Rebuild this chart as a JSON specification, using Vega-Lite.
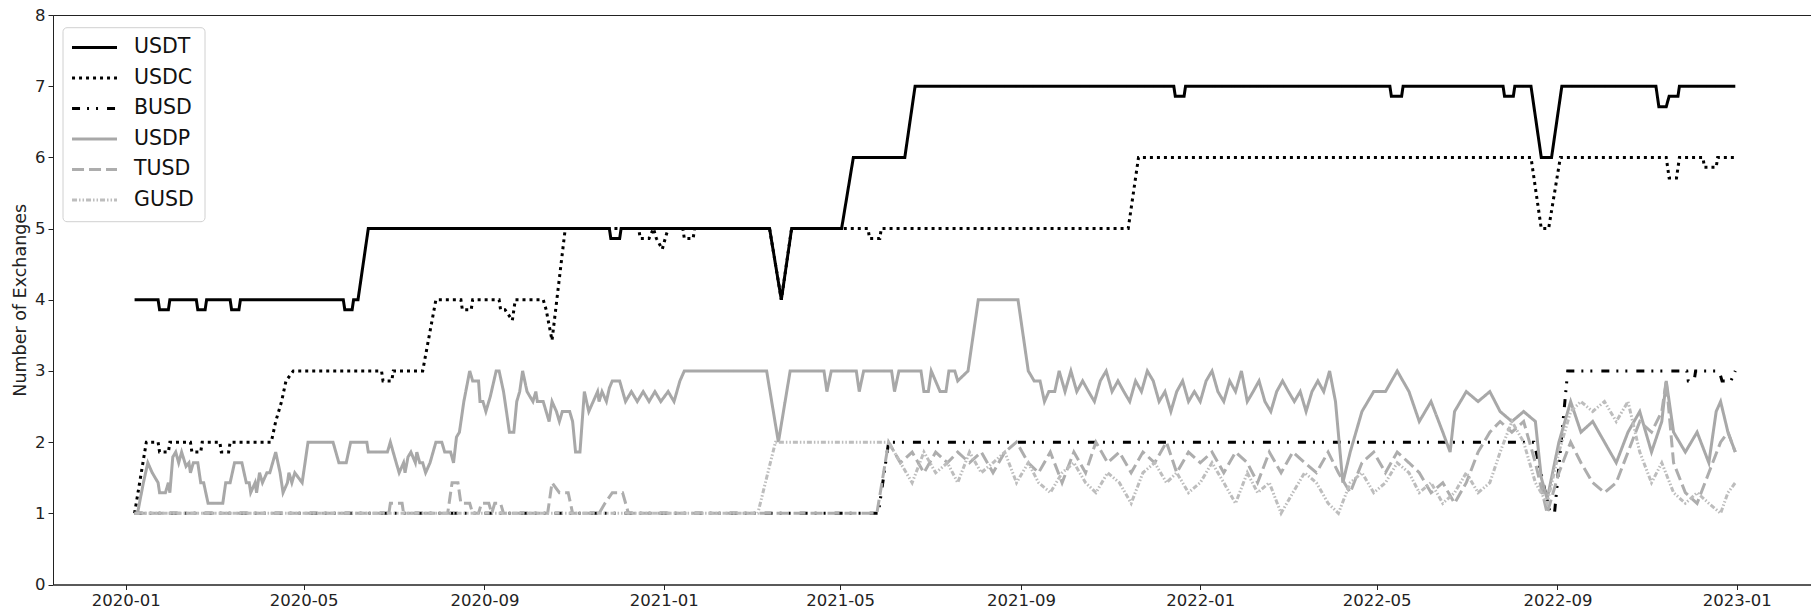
{
  "$schema": "https://vega.github.io/schema/vega-lite/v6.json",
  "width": 1758,
  "height": 569.5,
  "autosize": "none",
  "padding": {"left": 53, "top": 15, "right": 0, "bottom": 29},
  "background": "white",
  "config": {
    "font": "DejaVu Sans",
    "view": {"stroke": "#222", "strokeWidth": 1}
  },
  "data": {
    "values": [
      {"s": "USDT", "d": "2020-01-07", "v": 4},
      {"s": "USDT", "d": "2020-01-23", "v": 4},
      {"s": "USDT", "d": "2020-01-24", "v": 3.86},
      {"s": "USDT", "d": "2020-01-30", "v": 3.86},
      {"s": "USDT", "d": "2020-01-31", "v": 4},
      {"s": "USDT", "d": "2020-02-18", "v": 4},
      {"s": "USDT", "d": "2020-02-19", "v": 3.86},
      {"s": "USDT", "d": "2020-02-24", "v": 3.86},
      {"s": "USDT", "d": "2020-02-25", "v": 4},
      {"s": "USDT", "d": "2020-03-12", "v": 4},
      {"s": "USDT", "d": "2020-03-13", "v": 3.86},
      {"s": "USDT", "d": "2020-03-18", "v": 3.86},
      {"s": "USDT", "d": "2020-03-19", "v": 4},
      {"s": "USDT", "d": "2020-05-28", "v": 4},
      {"s": "USDT", "d": "2020-05-29", "v": 3.86},
      {"s": "USDT", "d": "2020-06-03", "v": 3.86},
      {"s": "USDT", "d": "2020-06-04", "v": 4},
      {"s": "USDT", "d": "2020-06-07", "v": 4},
      {"s": "USDT", "d": "2020-06-14", "v": 5},
      {"s": "USDT", "d": "2020-11-25", "v": 5},
      {"s": "USDT", "d": "2020-11-26", "v": 4.86},
      {"s": "USDT", "d": "2020-12-02", "v": 4.86},
      {"s": "USDT", "d": "2020-12-03", "v": 5},
      {"s": "USDT", "d": "2021-03-14", "v": 5},
      {"s": "USDT", "d": "2021-03-22", "v": 4},
      {"s": "USDT", "d": "2021-03-29", "v": 5},
      {"s": "USDT", "d": "2021-05-02", "v": 5},
      {"s": "USDT", "d": "2021-05-10", "v": 6},
      {"s": "USDT", "d": "2021-06-14", "v": 6},
      {"s": "USDT", "d": "2021-06-21", "v": 7},
      {"s": "USDT", "d": "2021-12-14", "v": 7},
      {"s": "USDT", "d": "2021-12-15", "v": 6.86},
      {"s": "USDT", "d": "2021-12-21", "v": 6.86},
      {"s": "USDT", "d": "2021-12-22", "v": 7},
      {"s": "USDT", "d": "2022-05-10", "v": 7},
      {"s": "USDT", "d": "2022-05-11", "v": 6.86},
      {"s": "USDT", "d": "2022-05-18", "v": 6.86},
      {"s": "USDT", "d": "2022-05-19", "v": 7},
      {"s": "USDT", "d": "2022-07-26", "v": 7},
      {"s": "USDT", "d": "2022-07-27", "v": 6.86},
      {"s": "USDT", "d": "2022-08-02", "v": 6.86},
      {"s": "USDT", "d": "2022-08-03", "v": 7},
      {"s": "USDT", "d": "2022-08-14", "v": 7},
      {"s": "USDT", "d": "2022-08-21", "v": 6},
      {"s": "USDT", "d": "2022-08-28", "v": 6},
      {"s": "USDT", "d": "2022-09-04", "v": 7},
      {"s": "USDT", "d": "2022-11-07", "v": 7},
      {"s": "USDT", "d": "2022-11-09", "v": 6.71},
      {"s": "USDT", "d": "2022-11-14", "v": 6.71},
      {"s": "USDT", "d": "2022-11-16", "v": 6.86},
      {"s": "USDT", "d": "2022-11-22", "v": 6.86},
      {"s": "USDT", "d": "2022-11-23", "v": 7},
      {"s": "USDT", "d": "2022-12-31", "v": 7},

      {"s": "USDC", "d": "2020-01-07", "v": 1},
      {"s": "USDC", "d": "2020-01-15", "v": 2},
      {"s": "USDC", "d": "2020-01-23", "v": 2},
      {"s": "USDC", "d": "2020-01-24", "v": 1.86},
      {"s": "USDC", "d": "2020-01-30", "v": 1.86},
      {"s": "USDC", "d": "2020-01-31", "v": 2},
      {"s": "USDC", "d": "2020-02-14", "v": 2},
      {"s": "USDC", "d": "2020-02-15", "v": 1.86},
      {"s": "USDC", "d": "2020-02-21", "v": 1.86},
      {"s": "USDC", "d": "2020-02-22", "v": 2},
      {"s": "USDC", "d": "2020-03-05", "v": 2},
      {"s": "USDC", "d": "2020-03-06", "v": 1.86},
      {"s": "USDC", "d": "2020-03-11", "v": 1.86},
      {"s": "USDC", "d": "2020-03-12", "v": 2},
      {"s": "USDC", "d": "2020-04-09", "v": 2},
      {"s": "USDC", "d": "2020-04-12", "v": 2.29},
      {"s": "USDC", "d": "2020-04-16", "v": 2.57},
      {"s": "USDC", "d": "2020-04-19", "v": 2.86},
      {"s": "USDC", "d": "2020-04-24", "v": 3},
      {"s": "USDC", "d": "2020-06-23", "v": 3},
      {"s": "USDC", "d": "2020-06-24", "v": 2.86},
      {"s": "USDC", "d": "2020-06-30", "v": 2.86},
      {"s": "USDC", "d": "2020-07-01", "v": 3},
      {"s": "USDC", "d": "2020-07-21", "v": 3},
      {"s": "USDC", "d": "2020-07-30", "v": 4},
      {"s": "USDC", "d": "2020-08-16", "v": 4},
      {"s": "USDC", "d": "2020-08-17", "v": 3.86},
      {"s": "USDC", "d": "2020-08-23", "v": 3.86},
      {"s": "USDC", "d": "2020-08-24", "v": 4},
      {"s": "USDC", "d": "2020-09-11", "v": 4},
      {"s": "USDC", "d": "2020-09-12", "v": 3.86},
      {"s": "USDC", "d": "2020-09-15", "v": 3.86},
      {"s": "USDC", "d": "2020-09-20", "v": 3.71},
      {"s": "USDC", "d": "2020-09-22", "v": 4},
      {"s": "USDC", "d": "2020-10-11", "v": 4},
      {"s": "USDC", "d": "2020-10-13", "v": 3.86},
      {"s": "USDC", "d": "2020-10-17", "v": 3.43},
      {"s": "USDC", "d": "2020-10-26", "v": 5},
      {"s": "USDC", "d": "2020-12-15", "v": 5},
      {"s": "USDC", "d": "2020-12-16", "v": 4.86},
      {"s": "USDC", "d": "2020-12-22", "v": 4.86},
      {"s": "USDC", "d": "2020-12-25", "v": 5},
      {"s": "USDC", "d": "2020-12-27", "v": 4.86},
      {"s": "USDC", "d": "2020-12-31", "v": 4.71},
      {"s": "USDC", "d": "2021-01-02", "v": 4.86},
      {"s": "USDC", "d": "2021-01-04", "v": 5},
      {"s": "USDC", "d": "2021-01-14", "v": 5},
      {"s": "USDC", "d": "2021-01-15", "v": 4.86},
      {"s": "USDC", "d": "2021-01-21", "v": 4.86},
      {"s": "USDC", "d": "2021-01-22", "v": 5},
      {"s": "USDC", "d": "2021-03-14", "v": 5},
      {"s": "USDC", "d": "2021-03-22", "v": 4},
      {"s": "USDC", "d": "2021-03-29", "v": 5},
      {"s": "USDC", "d": "2021-05-20", "v": 5},
      {"s": "USDC", "d": "2021-05-21", "v": 4.86},
      {"s": "USDC", "d": "2021-05-28", "v": 4.86},
      {"s": "USDC", "d": "2021-05-29", "v": 5},
      {"s": "USDC", "d": "2021-11-13", "v": 5},
      {"s": "USDC", "d": "2021-11-20", "v": 6},
      {"s": "USDC", "d": "2022-08-14", "v": 6},
      {"s": "USDC", "d": "2022-08-21", "v": 5},
      {"s": "USDC", "d": "2022-08-26", "v": 5},
      {"s": "USDC", "d": "2022-09-03", "v": 6},
      {"s": "USDC", "d": "2022-11-14", "v": 6},
      {"s": "USDC", "d": "2022-11-16", "v": 5.71},
      {"s": "USDC", "d": "2022-11-21", "v": 5.71},
      {"s": "USDC", "d": "2022-11-23", "v": 6},
      {"s": "USDC", "d": "2022-12-09", "v": 6},
      {"s": "USDC", "d": "2022-12-10", "v": 5.86},
      {"s": "USDC", "d": "2022-12-18", "v": 5.86},
      {"s": "USDC", "d": "2022-12-19", "v": 6},
      {"s": "USDC", "d": "2022-12-31", "v": 6},

      {"s": "BUSD", "d": "2020-01-07", "v": 1},
      {"s": "BUSD", "d": "2021-05-27", "v": 1},
      {"s": "BUSD", "d": "2021-06-03", "v": 2},
      {"s": "BUSD", "d": "2022-08-16", "v": 2},
      {"s": "BUSD", "d": "2022-08-27", "v": 1},
      {"s": "BUSD", "d": "2022-08-30", "v": 1},
      {"s": "BUSD", "d": "2022-09-08", "v": 3},
      {"s": "BUSD", "d": "2022-11-28", "v": 3},
      {"s": "BUSD", "d": "2022-11-29", "v": 2.86},
      {"s": "BUSD", "d": "2022-12-03", "v": 2.86},
      {"s": "BUSD", "d": "2022-12-04", "v": 3},
      {"s": "BUSD", "d": "2022-12-20", "v": 3},
      {"s": "BUSD", "d": "2022-12-22", "v": 2.86},
      {"s": "BUSD", "d": "2022-12-28", "v": 2.86},
      {"s": "BUSD", "d": "2022-12-31", "v": 3},

      {"s": "USDP", "d": "2020-01-07", "v": 1},
      {"s": "USDP", "d": "2020-01-09", "v": 1},
      {"s": "USDP", "d": "2020-01-13", "v": 1.43},
      {"s": "USDP", "d": "2020-01-16", "v": 1.71},
      {"s": "USDP", "d": "2020-01-19", "v": 1.57},
      {"s": "USDP", "d": "2020-01-23", "v": 1.43},
      {"s": "USDP", "d": "2020-01-24", "v": 1.29},
      {"s": "USDP", "d": "2020-01-28", "v": 1.29},
      {"s": "USDP", "d": "2020-01-30", "v": 1.43},
      {"s": "USDP", "d": "2020-01-31", "v": 1.29},
      {"s": "USDP", "d": "2020-02-02", "v": 1.79},
      {"s": "USDP", "d": "2020-02-04", "v": 1.86},
      {"s": "USDP", "d": "2020-02-06", "v": 1.71},
      {"s": "USDP", "d": "2020-02-08", "v": 1.86},
      {"s": "USDP", "d": "2020-02-11", "v": 1.66},
      {"s": "USDP", "d": "2020-02-13", "v": 1.71},
      {"s": "USDP", "d": "2020-02-14", "v": 1.57},
      {"s": "USDP", "d": "2020-02-16", "v": 1.71},
      {"s": "USDP", "d": "2020-02-19", "v": 1.71},
      {"s": "USDP", "d": "2020-02-21", "v": 1.43},
      {"s": "USDP", "d": "2020-02-23", "v": 1.43},
      {"s": "USDP", "d": "2020-02-26", "v": 1.14},
      {"s": "USDP", "d": "2020-03-07", "v": 1.14},
      {"s": "USDP", "d": "2020-03-09", "v": 1.43},
      {"s": "USDP", "d": "2020-03-12", "v": 1.43},
      {"s": "USDP", "d": "2020-03-15", "v": 1.71},
      {"s": "USDP", "d": "2020-03-20", "v": 1.71},
      {"s": "USDP", "d": "2020-03-23", "v": 1.43},
      {"s": "USDP", "d": "2020-03-25", "v": 1.43},
      {"s": "USDP", "d": "2020-03-26", "v": 1.29},
      {"s": "USDP", "d": "2020-03-29", "v": 1.43},
      {"s": "USDP", "d": "2020-03-30", "v": 1.29},
      {"s": "USDP", "d": "2020-04-01", "v": 1.57},
      {"s": "USDP", "d": "2020-04-03", "v": 1.43},
      {"s": "USDP", "d": "2020-04-06", "v": 1.57},
      {"s": "USDP", "d": "2020-04-08", "v": 1.57},
      {"s": "USDP", "d": "2020-04-12", "v": 1.86},
      {"s": "USDP", "d": "2020-04-15", "v": 1.57},
      {"s": "USDP", "d": "2020-04-17", "v": 1.29},
      {"s": "USDP", "d": "2020-04-20", "v": 1.43},
      {"s": "USDP", "d": "2020-04-21", "v": 1.57},
      {"s": "USDP", "d": "2020-04-23", "v": 1.43},
      {"s": "USDP", "d": "2020-04-25", "v": 1.57},
      {"s": "USDP", "d": "2020-04-30", "v": 1.43},
      {"s": "USDP", "d": "2020-05-04", "v": 2},
      {"s": "USDP", "d": "2020-05-21", "v": 2},
      {"s": "USDP", "d": "2020-05-25", "v": 1.71},
      {"s": "USDP", "d": "2020-05-30", "v": 1.71},
      {"s": "USDP", "d": "2020-06-02", "v": 2},
      {"s": "USDP", "d": "2020-06-13", "v": 2},
      {"s": "USDP", "d": "2020-06-14", "v": 1.86},
      {"s": "USDP", "d": "2020-06-27", "v": 1.86},
      {"s": "USDP", "d": "2020-06-29", "v": 2},
      {"s": "USDP", "d": "2020-07-03", "v": 1.71},
      {"s": "USDP", "d": "2020-07-05", "v": 1.57},
      {"s": "USDP", "d": "2020-07-08", "v": 1.71},
      {"s": "USDP", "d": "2020-07-09", "v": 1.57},
      {"s": "USDP", "d": "2020-07-11", "v": 1.79},
      {"s": "USDP", "d": "2020-07-13", "v": 1.86},
      {"s": "USDP", "d": "2020-07-16", "v": 1.71},
      {"s": "USDP", "d": "2020-07-17", "v": 1.86},
      {"s": "USDP", "d": "2020-07-19", "v": 1.71},
      {"s": "USDP", "d": "2020-07-21", "v": 1.71},
      {"s": "USDP", "d": "2020-07-23", "v": 1.57},
      {"s": "USDP", "d": "2020-07-26", "v": 1.71},
      {"s": "USDP", "d": "2020-07-30", "v": 2},
      {"s": "USDP", "d": "2020-08-03", "v": 2},
      {"s": "USDP", "d": "2020-08-05", "v": 1.86},
      {"s": "USDP", "d": "2020-08-09", "v": 1.86},
      {"s": "USDP", "d": "2020-08-11", "v": 1.71},
      {"s": "USDP", "d": "2020-08-13", "v": 2.07},
      {"s": "USDP", "d": "2020-08-15", "v": 2.14},
      {"s": "USDP", "d": "2020-08-18", "v": 2.57},
      {"s": "USDP", "d": "2020-08-22", "v": 3},
      {"s": "USDP", "d": "2020-08-24", "v": 2.86},
      {"s": "USDP", "d": "2020-08-28", "v": 2.86},
      {"s": "USDP", "d": "2020-08-29", "v": 2.57},
      {"s": "USDP", "d": "2020-08-31", "v": 2.57},
      {"s": "USDP", "d": "2020-09-02", "v": 2.43},
      {"s": "USDP", "d": "2020-09-05", "v": 2.64},
      {"s": "USDP", "d": "2020-09-09", "v": 3},
      {"s": "USDP", "d": "2020-09-11", "v": 3},
      {"s": "USDP", "d": "2020-09-14", "v": 2.71},
      {"s": "USDP", "d": "2020-09-16", "v": 2.43},
      {"s": "USDP", "d": "2020-09-18", "v": 2.14},
      {"s": "USDP", "d": "2020-09-21", "v": 2.14},
      {"s": "USDP", "d": "2020-09-23", "v": 2.57},
      {"s": "USDP", "d": "2020-09-25", "v": 2.71},
      {"s": "USDP", "d": "2020-09-27", "v": 3},
      {"s": "USDP", "d": "2020-09-30", "v": 2.71},
      {"s": "USDP", "d": "2020-10-04", "v": 2.57},
      {"s": "USDP", "d": "2020-10-06", "v": 2.71},
      {"s": "USDP", "d": "2020-10-07", "v": 2.57},
      {"s": "USDP", "d": "2020-10-11", "v": 2.57},
      {"s": "USDP", "d": "2020-10-13", "v": 2.43},
      {"s": "USDP", "d": "2020-10-15", "v": 2.29},
      {"s": "USDP", "d": "2020-10-17", "v": 2.57},
      {"s": "USDP", "d": "2020-10-20", "v": 2.43},
      {"s": "USDP", "d": "2020-10-22", "v": 2.29},
      {"s": "USDP", "d": "2020-10-24", "v": 2.43},
      {"s": "USDP", "d": "2020-10-29", "v": 2.43},
      {"s": "USDP", "d": "2020-10-31", "v": 2.29},
      {"s": "USDP", "d": "2020-11-02", "v": 1.86},
      {"s": "USDP", "d": "2020-11-05", "v": 1.86},
      {"s": "USDP", "d": "2020-11-08", "v": 2.71},
      {"s": "USDP", "d": "2020-11-11", "v": 2.43},
      {"s": "USDP", "d": "2020-11-14", "v": 2.57},
      {"s": "USDP", "d": "2020-11-17", "v": 2.71},
      {"s": "USDP", "d": "2020-11-18", "v": 2.57},
      {"s": "USDP", "d": "2020-11-20", "v": 2.71},
      {"s": "USDP", "d": "2020-11-23", "v": 2.57},
      {"s": "USDP", "d": "2020-11-25", "v": 2.76},
      {"s": "USDP", "d": "2020-11-27", "v": 2.86},
      {"s": "USDP", "d": "2020-12-02", "v": 2.86},
      {"s": "USDP", "d": "2020-12-06", "v": 2.57},
      {"s": "USDP", "d": "2020-12-10", "v": 2.71},
      {"s": "USDP", "d": "2020-12-14", "v": 2.57},
      {"s": "USDP", "d": "2020-12-18", "v": 2.71},
      {"s": "USDP", "d": "2020-12-22", "v": 2.57},
      {"s": "USDP", "d": "2020-12-26", "v": 2.71},
      {"s": "USDP", "d": "2020-12-30", "v": 2.57},
      {"s": "USDP", "d": "2021-01-04", "v": 2.71},
      {"s": "USDP", "d": "2021-01-08", "v": 2.57},
      {"s": "USDP", "d": "2021-01-12", "v": 2.86},
      {"s": "USDP", "d": "2021-01-15", "v": 3},
      {"s": "USDP", "d": "2021-03-12", "v": 3},
      {"s": "USDP", "d": "2021-03-20", "v": 2},
      {"s": "USDP", "d": "2021-03-28", "v": 3},
      {"s": "USDP", "d": "2021-04-20", "v": 3},
      {"s": "USDP", "d": "2021-04-22", "v": 2.71},
      {"s": "USDP", "d": "2021-04-25", "v": 3},
      {"s": "USDP", "d": "2021-05-12", "v": 3},
      {"s": "USDP", "d": "2021-05-14", "v": 2.71},
      {"s": "USDP", "d": "2021-05-17", "v": 3},
      {"s": "USDP", "d": "2021-06-05", "v": 3},
      {"s": "USDP", "d": "2021-06-07", "v": 2.71},
      {"s": "USDP", "d": "2021-06-10", "v": 3},
      {"s": "USDP", "d": "2021-06-25", "v": 3},
      {"s": "USDP", "d": "2021-06-27", "v": 2.71},
      {"s": "USDP", "d": "2021-06-30", "v": 2.71},
      {"s": "USDP", "d": "2021-07-02", "v": 3},
      {"s": "USDP", "d": "2021-07-08", "v": 2.71},
      {"s": "USDP", "d": "2021-07-12", "v": 2.71},
      {"s": "USDP", "d": "2021-07-14", "v": 3},
      {"s": "USDP", "d": "2021-07-18", "v": 3},
      {"s": "USDP", "d": "2021-07-20", "v": 2.86},
      {"s": "USDP", "d": "2021-07-27", "v": 3},
      {"s": "USDP", "d": "2021-08-03", "v": 4},
      {"s": "USDP", "d": "2021-08-30", "v": 4},
      {"s": "USDP", "d": "2021-09-06", "v": 3},
      {"s": "USDP", "d": "2021-09-10", "v": 2.86},
      {"s": "USDP", "d": "2021-09-14", "v": 2.86},
      {"s": "USDP", "d": "2021-09-17", "v": 2.57},
      {"s": "USDP", "d": "2021-09-20", "v": 2.71},
      {"s": "USDP", "d": "2021-09-24", "v": 2.71},
      {"s": "USDP", "d": "2021-09-27", "v": 3},
      {"s": "USDP", "d": "2021-10-01", "v": 2.71},
      {"s": "USDP", "d": "2021-10-05", "v": 3},
      {"s": "USDP", "d": "2021-10-09", "v": 2.71},
      {"s": "USDP", "d": "2021-10-13", "v": 2.86},
      {"s": "USDP", "d": "2021-10-17", "v": 2.71},
      {"s": "USDP", "d": "2021-10-21", "v": 2.57},
      {"s": "USDP", "d": "2021-10-25", "v": 2.86},
      {"s": "USDP", "d": "2021-10-29", "v": 3},
      {"s": "USDP", "d": "2021-11-02", "v": 2.71},
      {"s": "USDP", "d": "2021-11-06", "v": 2.86},
      {"s": "USDP", "d": "2021-11-10", "v": 2.71},
      {"s": "USDP", "d": "2021-11-14", "v": 2.57},
      {"s": "USDP", "d": "2021-11-18", "v": 2.86},
      {"s": "USDP", "d": "2021-11-22", "v": 2.71},
      {"s": "USDP", "d": "2021-11-26", "v": 3},
      {"s": "USDP", "d": "2021-11-30", "v": 2.86},
      {"s": "USDP", "d": "2021-12-04", "v": 2.57},
      {"s": "USDP", "d": "2021-12-08", "v": 2.71},
      {"s": "USDP", "d": "2021-12-12", "v": 2.43},
      {"s": "USDP", "d": "2021-12-16", "v": 2.71},
      {"s": "USDP", "d": "2021-12-20", "v": 2.86},
      {"s": "USDP", "d": "2021-12-24", "v": 2.57},
      {"s": "USDP", "d": "2021-12-28", "v": 2.71},
      {"s": "USDP", "d": "2022-01-01", "v": 2.57},
      {"s": "USDP", "d": "2022-01-05", "v": 2.86},
      {"s": "USDP", "d": "2022-01-09", "v": 3},
      {"s": "USDP", "d": "2022-01-13", "v": 2.71},
      {"s": "USDP", "d": "2022-01-17", "v": 2.57},
      {"s": "USDP", "d": "2022-01-21", "v": 2.86},
      {"s": "USDP", "d": "2022-01-25", "v": 2.71},
      {"s": "USDP", "d": "2022-01-29", "v": 3},
      {"s": "USDP", "d": "2022-02-02", "v": 2.57},
      {"s": "USDP", "d": "2022-02-06", "v": 2.71},
      {"s": "USDP", "d": "2022-02-10", "v": 2.86},
      {"s": "USDP", "d": "2022-02-14", "v": 2.57},
      {"s": "USDP", "d": "2022-02-18", "v": 2.43},
      {"s": "USDP", "d": "2022-02-22", "v": 2.71},
      {"s": "USDP", "d": "2022-02-26", "v": 2.86},
      {"s": "USDP", "d": "2022-03-02", "v": 2.71},
      {"s": "USDP", "d": "2022-03-06", "v": 2.57},
      {"s": "USDP", "d": "2022-03-10", "v": 2.71},
      {"s": "USDP", "d": "2022-03-14", "v": 2.43},
      {"s": "USDP", "d": "2022-03-18", "v": 2.71},
      {"s": "USDP", "d": "2022-03-22", "v": 2.86},
      {"s": "USDP", "d": "2022-03-26", "v": 2.71},
      {"s": "USDP", "d": "2022-03-30", "v": 3},
      {"s": "USDP", "d": "2022-04-03", "v": 2.57},
      {"s": "USDP", "d": "2022-04-08", "v": 1.43},
      {"s": "USDP", "d": "2022-04-13", "v": 1.86},
      {"s": "USDP", "d": "2022-04-21", "v": 2.43},
      {"s": "USDP", "d": "2022-04-29", "v": 2.71},
      {"s": "USDP", "d": "2022-05-07", "v": 2.71},
      {"s": "USDP", "d": "2022-05-15", "v": 3},
      {"s": "USDP", "d": "2022-05-23", "v": 2.71},
      {"s": "USDP", "d": "2022-05-30", "v": 2.29},
      {"s": "USDP", "d": "2022-06-07", "v": 2.57},
      {"s": "USDP", "d": "2022-06-15", "v": 2.14},
      {"s": "USDP", "d": "2022-06-20", "v": 1.86},
      {"s": "USDP", "d": "2022-06-23", "v": 2.43},
      {"s": "USDP", "d": "2022-07-01", "v": 2.71},
      {"s": "USDP", "d": "2022-07-09", "v": 2.57},
      {"s": "USDP", "d": "2022-07-17", "v": 2.71},
      {"s": "USDP", "d": "2022-07-24", "v": 2.43},
      {"s": "USDP", "d": "2022-08-01", "v": 2.29},
      {"s": "USDP", "d": "2022-08-09", "v": 2.43},
      {"s": "USDP", "d": "2022-08-17", "v": 2.29},
      {"s": "USDP", "d": "2022-08-21", "v": 1.5},
      {"s": "USDP", "d": "2022-08-25", "v": 1.2},
      {"s": "USDP", "d": "2022-08-29", "v": 1.6},
      {"s": "USDP", "d": "2022-09-02", "v": 2},
      {"s": "USDP", "d": "2022-09-10", "v": 2.57},
      {"s": "USDP", "d": "2022-09-17", "v": 2.14},
      {"s": "USDP", "d": "2022-09-25", "v": 2.29},
      {"s": "USDP", "d": "2022-10-03", "v": 2},
      {"s": "USDP", "d": "2022-10-11", "v": 1.71},
      {"s": "USDP", "d": "2022-10-19", "v": 2.14},
      {"s": "USDP", "d": "2022-10-27", "v": 2.43},
      {"s": "USDP", "d": "2022-11-04", "v": 1.86},
      {"s": "USDP", "d": "2022-11-11", "v": 2.29},
      {"s": "USDP", "d": "2022-11-14", "v": 2.86},
      {"s": "USDP", "d": "2022-11-19", "v": 2.14},
      {"s": "USDP", "d": "2022-11-27", "v": 1.86},
      {"s": "USDP", "d": "2022-12-05", "v": 2.14},
      {"s": "USDP", "d": "2022-12-13", "v": 1.71},
      {"s": "USDP", "d": "2022-12-18", "v": 2.43},
      {"s": "USDP", "d": "2022-12-21", "v": 2.57},
      {"s": "USDP", "d": "2022-12-26", "v": 2.14},
      {"s": "USDP", "d": "2022-12-31", "v": 1.86},

      {"s": "TUSD", "d": "2020-01-07", "v": 1},
      {"s": "TUSD", "d": "2020-06-28", "v": 1},
      {"s": "TUSD", "d": "2020-06-29", "v": 1.14},
      {"s": "TUSD", "d": "2020-07-07", "v": 1.14},
      {"s": "TUSD", "d": "2020-07-08", "v": 1},
      {"s": "TUSD", "d": "2020-08-07", "v": 1},
      {"s": "TUSD", "d": "2020-08-10", "v": 1.43},
      {"s": "TUSD", "d": "2020-08-14", "v": 1.43},
      {"s": "TUSD", "d": "2020-08-16", "v": 1.14},
      {"s": "TUSD", "d": "2020-08-22", "v": 1.14},
      {"s": "TUSD", "d": "2020-08-24", "v": 1},
      {"s": "TUSD", "d": "2020-08-28", "v": 1},
      {"s": "TUSD", "d": "2020-08-30", "v": 1.14},
      {"s": "TUSD", "d": "2020-09-04", "v": 1.14},
      {"s": "TUSD", "d": "2020-09-06", "v": 1},
      {"s": "TUSD", "d": "2020-09-08", "v": 1.14},
      {"s": "TUSD", "d": "2020-09-12", "v": 1.14},
      {"s": "TUSD", "d": "2020-09-14", "v": 1},
      {"s": "TUSD", "d": "2020-10-14", "v": 1},
      {"s": "TUSD", "d": "2020-10-17", "v": 1.43},
      {"s": "TUSD", "d": "2020-10-22", "v": 1.29},
      {"s": "TUSD", "d": "2020-10-28", "v": 1.29},
      {"s": "TUSD", "d": "2020-10-31", "v": 1},
      {"s": "TUSD", "d": "2020-11-18", "v": 1},
      {"s": "TUSD", "d": "2020-11-22", "v": 1.14},
      {"s": "TUSD", "d": "2020-11-27", "v": 1.29},
      {"s": "TUSD", "d": "2020-12-04", "v": 1.29},
      {"s": "TUSD", "d": "2020-12-08", "v": 1},
      {"s": "TUSD", "d": "2021-05-26", "v": 1},
      {"s": "TUSD", "d": "2021-06-03", "v": 2},
      {"s": "TUSD", "d": "2021-06-11", "v": 1.71},
      {"s": "TUSD", "d": "2021-06-19", "v": 1.86},
      {"s": "TUSD", "d": "2021-06-27", "v": 1.57},
      {"s": "TUSD", "d": "2021-07-05", "v": 1.86},
      {"s": "TUSD", "d": "2021-07-13", "v": 1.71},
      {"s": "TUSD", "d": "2021-07-20", "v": 1.86},
      {"s": "TUSD", "d": "2021-07-28", "v": 1.71},
      {"s": "TUSD", "d": "2021-08-05", "v": 1.86},
      {"s": "TUSD", "d": "2021-08-13", "v": 1.57},
      {"s": "TUSD", "d": "2021-08-21", "v": 1.86},
      {"s": "TUSD", "d": "2021-08-29", "v": 2},
      {"s": "TUSD", "d": "2021-09-06", "v": 1.71},
      {"s": "TUSD", "d": "2021-09-13", "v": 1.57},
      {"s": "TUSD", "d": "2021-09-21", "v": 1.86},
      {"s": "TUSD", "d": "2021-09-29", "v": 1.43},
      {"s": "TUSD", "d": "2021-10-07", "v": 1.86},
      {"s": "TUSD", "d": "2021-10-15", "v": 1.57},
      {"s": "TUSD", "d": "2021-10-22", "v": 2},
      {"s": "TUSD", "d": "2021-10-30", "v": 1.71},
      {"s": "TUSD", "d": "2021-11-07", "v": 1.86},
      {"s": "TUSD", "d": "2021-11-15", "v": 1.57},
      {"s": "TUSD", "d": "2021-11-23", "v": 1.86},
      {"s": "TUSD", "d": "2021-12-01", "v": 1.71},
      {"s": "TUSD", "d": "2021-12-09", "v": 2},
      {"s": "TUSD", "d": "2021-12-16", "v": 1.57},
      {"s": "TUSD", "d": "2021-12-24", "v": 1.86},
      {"s": "TUSD", "d": "2022-01-01", "v": 1.71},
      {"s": "TUSD", "d": "2022-01-09", "v": 1.86},
      {"s": "TUSD", "d": "2022-01-17", "v": 1.57},
      {"s": "TUSD", "d": "2022-01-25", "v": 1.86},
      {"s": "TUSD", "d": "2022-02-02", "v": 1.71},
      {"s": "TUSD", "d": "2022-02-09", "v": 1.43},
      {"s": "TUSD", "d": "2022-02-17", "v": 1.86},
      {"s": "TUSD", "d": "2022-02-25", "v": 1.57},
      {"s": "TUSD", "d": "2022-03-05", "v": 1.86},
      {"s": "TUSD", "d": "2022-03-13", "v": 1.71},
      {"s": "TUSD", "d": "2022-03-21", "v": 1.57},
      {"s": "TUSD", "d": "2022-03-29", "v": 1.86},
      {"s": "TUSD", "d": "2022-04-05", "v": 1.57},
      {"s": "TUSD", "d": "2022-04-13", "v": 1.29},
      {"s": "TUSD", "d": "2022-04-21", "v": 1.71},
      {"s": "TUSD", "d": "2022-04-29", "v": 1.86},
      {"s": "TUSD", "d": "2022-05-07", "v": 1.57},
      {"s": "TUSD", "d": "2022-05-15", "v": 1.86},
      {"s": "TUSD", "d": "2022-05-23", "v": 1.71},
      {"s": "TUSD", "d": "2022-05-30", "v": 1.57},
      {"s": "TUSD", "d": "2022-06-07", "v": 1.29},
      {"s": "TUSD", "d": "2022-06-15", "v": 1.43},
      {"s": "TUSD", "d": "2022-06-23", "v": 1.14},
      {"s": "TUSD", "d": "2022-07-01", "v": 1.43},
      {"s": "TUSD", "d": "2022-07-09", "v": 1.86},
      {"s": "TUSD", "d": "2022-07-17", "v": 2.14},
      {"s": "TUSD", "d": "2022-07-24", "v": 2.29},
      {"s": "TUSD", "d": "2022-08-01", "v": 2.14},
      {"s": "TUSD", "d": "2022-08-09", "v": 2.29},
      {"s": "TUSD", "d": "2022-08-17", "v": 1.71},
      {"s": "TUSD", "d": "2022-08-25", "v": 1},
      {"s": "TUSD", "d": "2022-09-02", "v": 1.57},
      {"s": "TUSD", "d": "2022-09-10", "v": 2},
      {"s": "TUSD", "d": "2022-09-17", "v": 1.71},
      {"s": "TUSD", "d": "2022-09-25", "v": 1.43},
      {"s": "TUSD", "d": "2022-10-03", "v": 1.29},
      {"s": "TUSD", "d": "2022-10-11", "v": 1.43},
      {"s": "TUSD", "d": "2022-10-19", "v": 1.86},
      {"s": "TUSD", "d": "2022-10-27", "v": 2.29},
      {"s": "TUSD", "d": "2022-11-04", "v": 2.14},
      {"s": "TUSD", "d": "2022-11-11", "v": 2.43},
      {"s": "TUSD", "d": "2022-11-14", "v": 2.86},
      {"s": "TUSD", "d": "2022-11-19", "v": 1.71},
      {"s": "TUSD", "d": "2022-11-27", "v": 1.29},
      {"s": "TUSD", "d": "2022-12-05", "v": 1.14},
      {"s": "TUSD", "d": "2022-12-13", "v": 1.57},
      {"s": "TUSD", "d": "2022-12-21", "v": 2},
      {"s": "TUSD", "d": "2022-12-26", "v": 2.14},
      {"s": "TUSD", "d": "2022-12-31", "v": 1.86},

      {"s": "GUSD", "d": "2020-01-07", "v": 1},
      {"s": "GUSD", "d": "2021-03-06", "v": 1},
      {"s": "GUSD", "d": "2021-03-18", "v": 2},
      {"s": "GUSD", "d": "2021-06-03", "v": 2},
      {"s": "GUSD", "d": "2021-06-11", "v": 1.71},
      {"s": "GUSD", "d": "2021-06-19", "v": 1.43},
      {"s": "GUSD", "d": "2021-06-27", "v": 1.86},
      {"s": "GUSD", "d": "2021-07-05", "v": 1.57},
      {"s": "GUSD", "d": "2021-07-13", "v": 1.71},
      {"s": "GUSD", "d": "2021-07-20", "v": 1.43},
      {"s": "GUSD", "d": "2021-07-28", "v": 1.86},
      {"s": "GUSD", "d": "2021-08-05", "v": 1.57},
      {"s": "GUSD", "d": "2021-08-13", "v": 1.71},
      {"s": "GUSD", "d": "2021-08-21", "v": 1.86},
      {"s": "GUSD", "d": "2021-08-29", "v": 1.43},
      {"s": "GUSD", "d": "2021-09-06", "v": 1.71},
      {"s": "GUSD", "d": "2021-09-13", "v": 1.43},
      {"s": "GUSD", "d": "2021-09-21", "v": 1.29},
      {"s": "GUSD", "d": "2021-09-29", "v": 1.57},
      {"s": "GUSD", "d": "2021-10-07", "v": 1.71},
      {"s": "GUSD", "d": "2021-10-15", "v": 1.43},
      {"s": "GUSD", "d": "2021-10-22", "v": 1.29},
      {"s": "GUSD", "d": "2021-10-30", "v": 1.57},
      {"s": "GUSD", "d": "2021-11-07", "v": 1.43},
      {"s": "GUSD", "d": "2021-11-15", "v": 1.14},
      {"s": "GUSD", "d": "2021-11-23", "v": 1.57},
      {"s": "GUSD", "d": "2021-12-01", "v": 1.71},
      {"s": "GUSD", "d": "2021-12-09", "v": 1.43},
      {"s": "GUSD", "d": "2021-12-16", "v": 1.57},
      {"s": "GUSD", "d": "2021-12-24", "v": 1.29},
      {"s": "GUSD", "d": "2022-01-01", "v": 1.43},
      {"s": "GUSD", "d": "2022-01-09", "v": 1.71},
      {"s": "GUSD", "d": "2022-01-17", "v": 1.43},
      {"s": "GUSD", "d": "2022-01-25", "v": 1.14},
      {"s": "GUSD", "d": "2022-02-02", "v": 1.57},
      {"s": "GUSD", "d": "2022-02-09", "v": 1.29},
      {"s": "GUSD", "d": "2022-02-17", "v": 1.43},
      {"s": "GUSD", "d": "2022-02-25", "v": 1},
      {"s": "GUSD", "d": "2022-03-05", "v": 1.29},
      {"s": "GUSD", "d": "2022-03-13", "v": 1.57},
      {"s": "GUSD", "d": "2022-03-21", "v": 1.43},
      {"s": "GUSD", "d": "2022-03-29", "v": 1.14},
      {"s": "GUSD", "d": "2022-04-05", "v": 1},
      {"s": "GUSD", "d": "2022-04-13", "v": 1.43},
      {"s": "GUSD", "d": "2022-04-21", "v": 1.57},
      {"s": "GUSD", "d": "2022-04-29", "v": 1.29},
      {"s": "GUSD", "d": "2022-05-07", "v": 1.43},
      {"s": "GUSD", "d": "2022-05-15", "v": 1.71},
      {"s": "GUSD", "d": "2022-05-23", "v": 1.57},
      {"s": "GUSD", "d": "2022-05-30", "v": 1.29},
      {"s": "GUSD", "d": "2022-06-07", "v": 1.43},
      {"s": "GUSD", "d": "2022-06-15", "v": 1.14},
      {"s": "GUSD", "d": "2022-06-23", "v": 1.29},
      {"s": "GUSD", "d": "2022-07-01", "v": 1.57},
      {"s": "GUSD", "d": "2022-07-09", "v": 1.29},
      {"s": "GUSD", "d": "2022-07-17", "v": 1.43},
      {"s": "GUSD", "d": "2022-07-24", "v": 1.86},
      {"s": "GUSD", "d": "2022-08-01", "v": 2.29},
      {"s": "GUSD", "d": "2022-08-09", "v": 2},
      {"s": "GUSD", "d": "2022-08-17", "v": 1.43},
      {"s": "GUSD", "d": "2022-08-25", "v": 1.14},
      {"s": "GUSD", "d": "2022-09-02", "v": 1.86},
      {"s": "GUSD", "d": "2022-09-10", "v": 2.43},
      {"s": "GUSD", "d": "2022-09-17", "v": 2.57},
      {"s": "GUSD", "d": "2022-09-25", "v": 2.43},
      {"s": "GUSD", "d": "2022-10-03", "v": 2.57},
      {"s": "GUSD", "d": "2022-10-11", "v": 2.29},
      {"s": "GUSD", "d": "2022-10-19", "v": 2.57},
      {"s": "GUSD", "d": "2022-10-27", "v": 1.86},
      {"s": "GUSD", "d": "2022-11-04", "v": 1.43},
      {"s": "GUSD", "d": "2022-11-11", "v": 1.71},
      {"s": "GUSD", "d": "2022-11-19", "v": 1.29},
      {"s": "GUSD", "d": "2022-11-27", "v": 1.14},
      {"s": "GUSD", "d": "2022-12-05", "v": 1.29},
      {"s": "GUSD", "d": "2022-12-13", "v": 1.14},
      {"s": "GUSD", "d": "2022-12-21", "v": 1},
      {"s": "GUSD", "d": "2022-12-26", "v": 1.29},
      {"s": "GUSD", "d": "2022-12-31", "v": 1.43}
    ]
  },
  "mark": {"type": "line", "strokeCap": "butt", "strokeJoin": "miter"},
  "encoding": {
    "x": {
      "field": "d",
      "type": "temporal",
      "title": null,
      "scale": {
        "type": "utc",
        "domain": [
          {"year": 2019, "month": 11, "date": 12, "hours": 12, "utc": true},
          {"year": 2023, "month": 2, "date": 20, "hours": 12, "utc": true}
        ]
      },
      "axis": {
        "labelExpr": "utcFormat(datum.value, '%Y-%m')",
        "tickCount": {"interval": "month", "step": 4},
        "grid": false,
        "labelFontSize": 16.5,
        "labelColor": "#222",
        "labelPadding": 3,
        "labelFlush": false,
        "labelOverlap": false,
        "tickSize": 5,
        "tickColor": "#222",
        "domainColor": "#222"
      }
    },
    "y": {
      "field": "v",
      "type": "quantitative",
      "scale": {"domain": [0, 8], "nice": false, "zero": false},
      "axis": {
        "title": "Number of Exchanges",
        "titleFontSize": 17.5,
        "titleFontWeight": "normal",
        "titleColor": "#222",
        "titlePadding": 5,
        "values": [0, 1, 2, 3, 4, 5, 6, 7, 8],
        "grid": false,
        "labelFontSize": 16.5,
        "labelColor": "#222",
        "labelPadding": 3,
        "tickSize": 5,
        "tickColor": "#222",
        "domainColor": "#222"
      }
    },
    "color": {
      "field": "s",
      "type": "nominal",
      "scale": {
        "domain": ["USDT", "USDC", "BUSD", "USDP", "TUSD", "GUSD"],
        "range": ["#000000", "#000000", "#000000", "#a8a8a8", "#adadad", "#bdbdbd"]
      },
      "legend": {
        "title": null,
        "orient": "none",
        "legendX": 9.5,
        "legendY": 12.2,
        "symbolType": "M-1.34,0H4.28",
        "symbolSize": 256,
        "labelFontSize": 20.5,
        "labelColor": "#111",
        "labelOffset": 41,
        "rowPadding": 9.5,
        "padding": 10,
        "fillColor": "white",
        "strokeColor": "#d0d0d0",
        "cornerRadius": 4
      }
    },
    "strokeDash": {
      "field": "s",
      "type": "nominal",
      "scale": {
        "domain": ["USDT", "USDC", "BUSD", "USDP", "TUSD", "GUSD"],
        "range": [[1, 0], [3, 4], [8, 7, 2, 7, 2, 9], [1, 0], [12, 5], [5, 2, 1.5, 2, 1.5, 2]]
      }
    },
    "strokeWidth": {
      "field": "s",
      "type": "nominal",
      "scale": {
        "domain": ["USDT", "USDC", "BUSD", "USDP", "TUSD", "GUSD"],
        "range": [3, 3, 2.3, 2, 2, 1.6]
      }
    }
  }
}
